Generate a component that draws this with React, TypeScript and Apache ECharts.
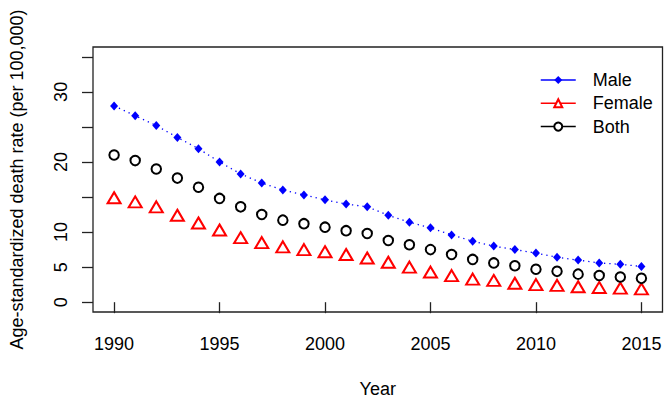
import { useEffect, useRef } from "react";
import * as echarts from "echarts";

const years = [1990, 1991, 1992, 1993, 1994, 1995, 1996, 1997, 1998, 1999, 2000, 2001, 2002, 2003, 2004, 2005, 2006, 2007, 2008, 2009, 2010, 2011, 2012, 2013, 2014, 2015];
const male = [28.0, 26.6, 25.2, 23.5, 21.9, 20.0, 18.3, 17.0, 16.0, 15.3, 14.6, 14.0, 13.6, 12.4, 11.4, 10.6, 9.6, 8.7, 8.0, 7.5, 7.0, 6.4, 6.0, 5.6, 5.4, 5.1];
const female = [14.9, 14.3, 13.6, 12.4, 11.3, 10.3, 9.2, 8.5, 7.9, 7.5, 7.2, 6.8, 6.3, 5.7, 5.0, 4.3, 3.8, 3.3, 3.1, 2.7, 2.5, 2.4, 2.2, 2.1, 2.0, 1.9];
const both = [21.0, 20.2, 19.0, 17.7, 16.4, 14.8, 13.6, 12.5, 11.7, 11.2, 10.7, 10.2, 9.8, 8.8, 8.2, 7.5, 6.8, 6.1, 5.6, 5.2, 4.7, 4.4, 4.0, 3.8, 3.6, 3.4];
const xTicks = [1990, 1995, 2000, 2005, 2010, 2015];
const yTicks = [0, 5, 10, 15, 20, 25, 30, 35];
const yLabels = [0, 5, 10, 20, 30];

const FONT = "'Liberation Sans', Arial, sans-serif";

export default function App() {
  const ref = useRef<HTMLDivElement>(null);
  useEffect(() => {
    if (!ref.current) return;
    const chart = echarts.init(ref.current, null, { renderer: "svg" });
    const pairs = (vals: number[]) => years.map((y, i) => [y, vals[i]]);
    chart.setOption({
      animation: false,
      backgroundColor: "#fff",
      textStyle: { fontFamily: FONT },
      grid: {
        left: 89,
        right: 3.5,
        top: 47,
        bottom: 90,
        show: true,
        borderColor: "#222",
        borderWidth: 1.3,
        backgroundColor: "transparent",
      },
      legend: {
        orient: "vertical",
        left: 540,
        top: 71,
        padding: 0,
        itemWidth: 35,
        itemHeight: 10,
        itemGap: 5.3,
        data: [
          { name: "Male", lineStyle: { width: 1.5, type: "solid", color: "#0000ff" } },
          { name: "Female", lineStyle: { width: 1.5, type: "solid", color: "#ff0000" } },
          { name: "Both", lineStyle: { width: 1.5, type: "solid", color: "#000" } },
        ],
        textStyle: { fontSize: 18, color: "#000", fontFamily: FONT, padding: [0, 0, 0, 12] },
      },
      xAxis: {
        type: "value",
        min: 1989,
        max: 2016,
        name: "Year",
        nameLocation: "middle",
        nameGap: 68,
        nameTextStyle: { fontSize: 18, color: "#000", fontFamily: FONT },
        axisLine: { show: false },
        splitLine: { show: false },
        axisTick: {
          show: true,
          inside: false,
          length: 11,
          customValues: xTicks,
          lineStyle: { color: "#222", width: 1.3 },
        },
        axisLabel: {
          customValues: xTicks,
          formatter: (v: number) => String(v),
          margin: 23,
          fontSize: 18,
          color: "#000",
          fontFamily: FONT,
        },
      },
      yAxis: {
        type: "value",
        min: -1.4,
        max: 36.4,
        name: "Age-standardized death rate (per 100,000)",
        nameLocation: "middle",
        nameGap: 67,
        nameTextStyle: { fontSize: 18, color: "#000", fontFamily: FONT },
        axisLine: { show: false },
        splitLine: { show: false },
        axisTick: {
          show: true,
          inside: false,
          length: 11,
          customValues: yTicks,
          lineStyle: { color: "#222", width: 1.3 },
        },
        axisLabel: {
          customValues: yLabels,
          formatter: (v: number) => String(v),
          rotate: 90,
          margin: 23,
          fontSize: 18,
          color: "#000",
          fontFamily: FONT,
        },
      },
      series: [
        {
          name: "Male",
          type: "line",
          data: pairs(male),
          symbol: "diamond",
          symbolSize: [8, 9],
          itemStyle: { color: "#0000ff" },
          lineStyle: { color: "#0000ff", width: 1.3, type: [1.3, 4] },
          z: 3,
        },
        {
          name: "Female",
          type: "line",
          data: pairs(female),
          symbol: "emptyTriangle",
          symbolSize: [13, 11],
          itemStyle: { color: "#ff0000", borderColor: "#ff0000", borderWidth: 1.5 },
          lineStyle: { color: "#ff0000", width: 0 },
          z: 2,
        },
        {
          name: "Both",
          type: "line",
          data: pairs(both),
          symbol: "emptyCircle",
          symbolSize: 9.5,
          itemStyle: { color: "#000", borderColor: "#000", borderWidth: 1.4 },
          lineStyle: { color: "#000", width: 0 },
          z: 2,
        },
      ],
    });
    return () => chart.dispose();
  }, []);
  return (
    <div
      ref={ref}
      style={{ position: "absolute", left: 0, top: 0, width: 666, height: 403 }}
    />
  );
}
